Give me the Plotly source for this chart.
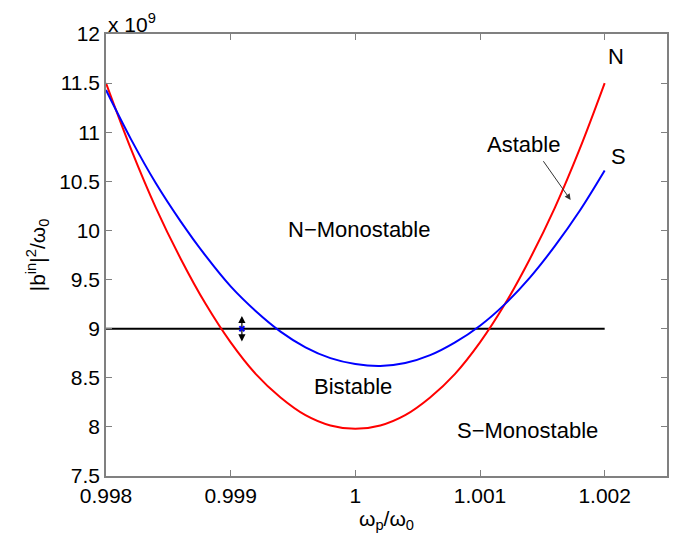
import plotly.graph_objects as go

# omega_p / omega_0 sample points
omega = [0.9980, 0.9982, 0.9984, 0.9986, 0.9988, 0.9990, 0.9992, 0.9994, 0.9996, 0.9998,
         1.0000, 1.0002, 1.0004, 1.0006, 1.0008, 1.0010, 1.0012, 1.0014, 1.0016, 1.0018, 1.0020]
# N branch (red), |b_in|^2/omega_0 in units of 1e9
n_vals = [11.50, 10.83, 10.23, 9.71, 9.25, 8.86, 8.54, 8.30, 8.12, 8.015,
          7.98, 8.015, 8.12, 8.30, 8.54, 8.86, 9.25, 9.71, 10.23, 10.83, 11.50]
# S branch (blue)
s_vals = [11.43, 10.93, 10.48, 10.09, 9.74, 9.43, 9.18, 8.97, 8.81, 8.70,
          8.64, 8.62, 8.65, 8.73, 8.86, 9.03, 9.25, 9.52, 9.84, 10.20, 10.61]
# horizontal drive level
level_x = [0.998, 1.002]
level_y = [9.0, 9.0]

x_ticks = [0.998, 0.999, 1.0, 1.001, 1.002]
x_ticklabels = ["0.998", "0.999", "1", "1.001", "1.002"]
y_ticks = [7.5, 8, 8.5, 9, 9.5, 10, 10.5, 11, 11.5, 12]
y_ticklabels = ["7.5", "8", "8.5", "9", "9.5", "10", "10.5", "11", "11.5", "12"]

FONT = "Liberation Sans, Arial, Helvetica, sans-serif"

fig = go.Figure()
fig.add_trace(go.Scatter(x=level_x, y=level_y, mode="lines",
                         line=dict(color="black", width=2), showlegend=False))
fig.add_trace(go.Scatter(x=omega, y=n_vals, mode="lines", line_shape="spline",
                         line=dict(color="#ff0000", width=2), showlegend=False))
fig.add_trace(go.Scatter(x=omega, y=s_vals, mode="lines", line_shape="spline",
                         line=dict(color="#0000ff", width=2), showlegend=False))
fig.add_trace(go.Scatter(x=[0.99909], y=[9.0], mode="markers",
                         marker=dict(symbol="x-thin", size=5, color="#0000ff",
                                     line=dict(width=2, color="#0000ff")),
                         showlegend=False))

ann = []
# double-headed arrow
for yy in (9.13, 8.87):
    ann.append(dict(x=0.99909, y=yy, ax=0.99909, ay=9.0, xref="x", yref="y",
                    axref="x", ayref="y", text="", showarrow=True,
                    arrowhead=2, arrowsize=1.2, arrowwidth=1.2, arrowcolor="black"))
# Astable arrow
ann.append(dict(x=1.001727, y=10.31, ax=1.0015, ay=10.72, xref="x", yref="y",
                axref="x", ayref="y", text="", showarrow=True,
                arrowhead=2, arrowsize=1.2, arrowwidth=1, arrowcolor="#333333"))
labels = [("Astable", 1.00135, 10.88), ("N", 1.002094, 11.77), ("S", 1.00211, 10.75),
          ("N\u2212Monostable", 1.000032, 10.01), ("Bistable", 0.999984, 8.41),
          ("S\u2212Monostable", 1.001382, 7.96)]
for t, xx, yy in labels:
    ann.append(dict(x=xx, y=yy, xref="x", yref="y", text=t, showarrow=False,
                    font=dict(size=22, color="black", family=FONT)))
ann.append(dict(x=0, y=1, xref="paper", yref="paper", xanchor="left", yanchor="bottom",
                text="x 10<sup>9</sup>", showarrow=False, yshift=-4,
                font=dict(size=21, color="black", family=FONT)))
fig.update_layout(annotations=ann)

axis_common = dict(showline=True, mirror="ticks", linecolor="#808080", linewidth=1.5,
                   ticks="inside", ticklen=6, tickcolor="#808080", showgrid=False,
                   zeroline=False, automargin=False,
                   tickfont=dict(size=21, color="black", family=FONT))
fig.update_xaxes(range=[0.998, 1.0025], tickvals=x_ticks, ticktext=x_ticklabels,
                 title=dict(text="\u03c9<sub>p</sub>/\u03c9<sub>0</sub>", standoff=4,
                            font=dict(size=21, family=FONT, color="black")),
                 **axis_common)
fig.update_yaxes(range=[7.5, 12], tickvals=y_ticks, ticktext=y_ticklabels,
                 title=dict(text="|b<sup>in</sup>|<sup>2</sup>/\u03c9<sub>0</sub>", standoff=8,
                            font=dict(size=21, family=FONT, color="black")),
                 **axis_common)
# page body adds an 8px offset, so the figure is sized to fit the window
fig.update_layout(width=665, height=525, plot_bgcolor="white", paper_bgcolor="white",
                  margin=dict(l=98, r=6, t=26, b=57), font=dict(family=FONT))
fig.write_html("out.html")
